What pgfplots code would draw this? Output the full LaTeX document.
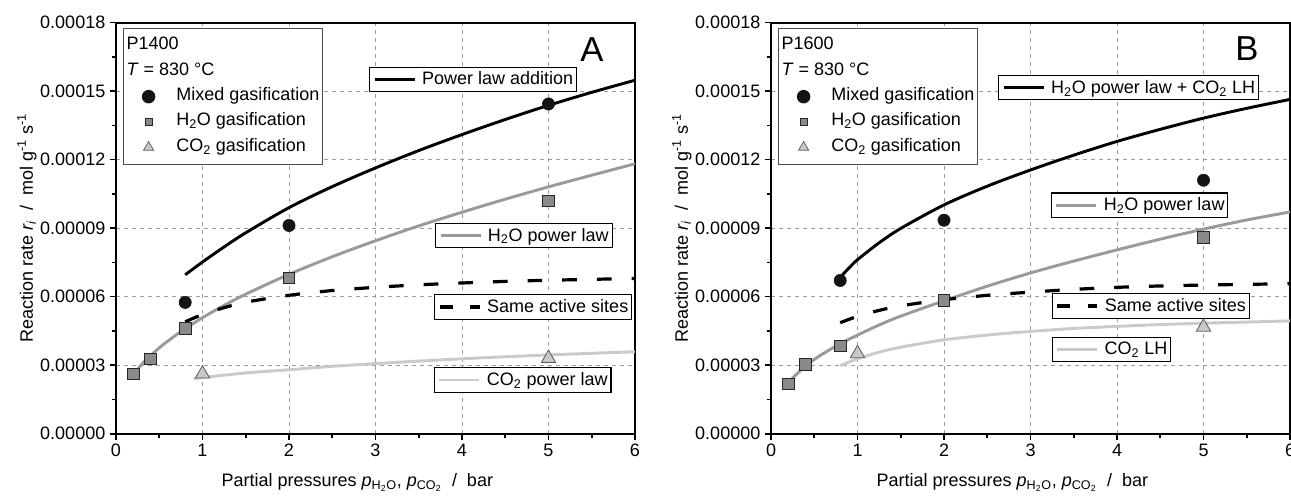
\documentclass[border=0pt]{standalone}
\usepackage{fontspec}
\setmainfont{Liberation Sans}
\usepackage{pgfplots}
\pgfplotsset{compat=1.18}
\definecolor{h2oline}{HTML}{9A9A9A}
\definecolor{co2line}{HTML}{CACACA}
\definecolor{sqfill}{HTML}{8A8A8A}
\definecolor{trifill}{HTML}{C8C8C8}
\definecolor{gridc}{HTML}{9C9C9C}
\newcommand{\fs}{\fontsize{13.5}{16}\selectfont}
\pgfplotsset{
  baseax/.style={scale only axis, width=389.25pt, height=308.25pt,
    xmin=0, xmax=6, ymin=0, ymax=0.00018, anchor=south west, font=\fs},
  mainax/.style={baseax,
    axis line style={line width=1.5pt, black},
    tick align=outside, tick pos=left,
    major tick length=4.5pt, minor tick length=3pt,
    tick style={black, line width=1.2pt},
    xtick={0,1,2,3,4,5,6}, minor x tick num=1,
    ytick={0,0.00003,0.00006,0.00009,0.00012,0.00015,0.00018}, minor y tick num=1,
    scaled y ticks=false,
    yticklabel style={/pgf/number format/fixed,/pgf/number format/fixed zerofill,/pgf/number format/precision=5},
    /pgf/number format/assume math mode=true,
    ticklabel style={font=\fs},
    grid=major, major grid style={gridc, line width=0.6pt, dash pattern=on 3pt off 3pt},
    xlabel={Partial pressures \textit{p}\textsubscript{H\textsubscript{2}O}, \textit{p}\textsubscript{CO\textsubscript{2}} \ / \ bar},
    ylabel={Reaction rate \textit{r}\textsubscript{\textit{i}} \ / \ mol g\textsuperscript{-1} s\textsuperscript{-1}},
    xlabel style={at={(axis description cs:0.465,-0.129)}, anchor=base},
    ylabel style={at={(axis description cs:-0.1715,0.5)}, anchor=center},
  },
  overax/.style={baseax, hide axis},
  curvelab/.style={
    legend style={draw=black, line width=0.8pt, fill=white, inner xsep=2.5pt, inner ysep=1.5pt,
      anchor=north west, font=\fs,
      nodes={inner xsep=0pt, inner ysep=2pt},
      /tikz/every odd column/.append style={column sep=4.5pt}},
    legend cell align=left,
    legend image code/.code={\draw[##1] (0pt,0pt) -- (30pt,0pt);}},
  dashlab/.style={legend image code/.code={\draw[##1, dash pattern=on 9.75pt off 13pt] (0pt,0pt) -- (30pt,0pt);}},
  ptlab/.style={
    legend style={draw=black!70, line width=0.9pt, fill=white, inner xsep=2.5pt, inner ysep=3.5pt,
      anchor=north west, font=\fs, at={(0.0135,0.987)},
      nodes={inner xsep=0pt, inner ysep=2.5pt, text height=10pt, text depth=4pt},
      /tikz/every odd column/.append style={column sep=5pt}},
    legend cell align=left,
    legend image code/.code={\path[draw=none,fill=none] (0pt,0pt) -- (32pt,0pt); \draw[##1] plot coordinates {(16.25pt,0pt)};}},
  mixedm/.style={only marks, mark=*, mark size=4.6pt, mark options={fill=black!92, draw=black!92}},
  h2om/.style={only marks, mark=square*, mark size=4.3pt, mark options={fill=sqfill, draw=black!85, line width=0.6pt}},
  co2m/.style={only marks, mark=triangle*, mark size=6.2pt, mark options={fill=trifill, draw=black!65, line width=0.6pt}},
  h2oml/.style={only marks, mark=square*, mark size=2.8pt, mark options={fill=sqfill, draw=black!85, line width=0.5pt}},
  co2ml/.style={only marks, mark=triangle*, mark size=4.4pt, mark options={fill=trifill, draw=black!65, line width=0.5pt}},
  blk/.style={black, line width=2.2pt, smooth},
  h2ol/.style={h2oline, line width=2.2pt, smooth},
  co2l/.style={co2line, line width=2.2pt, smooth},
  dsh/.style={black, line width=2.4pt, smooth, dash pattern=on 11pt off 15pt},
}
\begin{document}
\begin{tikzpicture}
\path[use as bounding box] (0,0) rectangle (968.25pt,372pt);
% ================= LEFT PANEL (A) =================
\begin{axis}[mainax, at={(87pt,46.725pt)}, curvelab, legend style={at={(0.488,0.893)}}]
\addplot[blk] coordinates {(0.8,6.96e-5)(1,7.52e-5)(1.25,8.18e-5)(1.5,8.80e-5)(2,9.90e-5)(2.5,10.82e-5)(3,11.64e-5)(3.5,12.40e-5)(4,13.10e-5)(4.5,13.76e-5)(5,14.38e-5)(5.5,14.95e-5)(6,15.48e-5)};
\addlegendentry{Power law addition}
\end{axis}
\begin{axis}[overax, at={(87pt,46.725pt)}, curvelab, legend style={at={(0.615,0.513)}}]
\addplot[h2ol] coordinates {(0.2,2.60e-5)(0.3,3.05e-5)(0.4,3.42e-5)(0.5,3.76e-5)(0.6,4.06e-5)(0.8,4.60e-5)(1,5.08e-5)(1.25,5.62e-5)(1.5,6.11e-5)(2,6.98e-5)(2.5,7.75e-5)(3,8.45e-5)(3.5,9.10e-5)(4,9.70e-5)(4.5,10.27e-5)(5,10.81e-5)(5.5,11.32e-5)(6,11.82e-5)};
\addlegendentry{H\textsubscript{2}O power law}
\end{axis}
\begin{axis}[overax, at={(87pt,46.725pt)}, curvelab, dashlab, legend style={at={(0.613,0.339)}}]
\addplot[dsh] coordinates {(0.8,4.90e-5)(1,5.22e-5)(1.25,5.52e-5)(1.5,5.76e-5)(2,6.06e-5)(2.5,6.27e-5)(3,6.41e-5)(3.5,6.52e-5)(4,6.60e-5)(4.5,6.67e-5)(5,6.72e-5)(5.5,6.76e-5)(6,6.80e-5)};
\addlegendentry{Same active sites}
\end{axis}
\begin{axis}[overax, at={(87pt,46.725pt)}, curvelab, legend style={at={(0.613,0.1616)}}]
\addplot[co2l] coordinates {(0.9,2.40e-5)(1,2.46e-5)(1.5,2.66e-5)(2,2.80e-5)(2.5,2.95e-5)(3,3.07e-5)(3.5,3.18e-5)(4,3.28e-5)(4.5,3.37e-5)(5,3.45e-5)(5.5,3.52e-5)(6,3.59e-5)};
\addlegendentry{CO\textsubscript{2} power law}
\end{axis}
\begin{axis}[overax, at={(87pt,46.725pt)}, ptlab]
\addlegendimage{empty legend}\addlegendentry{\hspace*{-37.25pt}P1400}
\addlegendimage{empty legend}\addlegendentry{\hspace*{-37.25pt}\textit{T} = 830 °C}
\addlegendimage{mixedm}\addlegendentry{Mixed gasification}
\addlegendimage{h2oml}\addlegendentry{H\textsubscript{2}O gasification}
\addlegendimage{co2ml}\addlegendentry{CO\textsubscript{2} gasification}
\addplot[mixedm, forget plot] coordinates {(0.8,5.75e-5)(2,9.12e-5)(5,14.44e-5)};
\addplot[h2om, forget plot] coordinates {(0.2,2.61e-5)(0.4,3.28e-5)(0.8,4.62e-5)(2,6.82e-5)(5,10.19e-5)};
\addplot[co2m, forget plot] coordinates {(1,2.62e-5)(5,3.30e-5)};
\node[font=\fontsize{26}{30}\selectfont] at (axis description cs:0.917,0.934) {A};
\end{axis}
% ================= RIGHT PANEL (B) =================
\begin{axis}[mainax, at={(578.25pt,46.725pt)}, curvelab, legend style={at={(0.438,0.873)}}]
\addplot[blk] coordinates {(0.8,6.85e-5)(0.9,7.25e-5)(1,7.62e-5)(1.25,8.36e-5)(1.5,8.99e-5)(2,10.02e-5)(2.5,10.84e-5)(3,11.55e-5)(3.5,12.20e-5)(4,12.80e-5)(4.5,13.33e-5)(5,13.82e-5)(5.5,14.25e-5)(6,14.64e-5)};
\addlegendentry{H\textsubscript{2}O power law + CO\textsubscript{2} LH}
\end{axis}
\begin{axis}[overax, at={(578.25pt,46.725pt)}, curvelab, legend style={at={(0.5395,0.587)}}]
\addplot[h2ol] coordinates {(0.2,2.25e-5)(0.3,2.62e-5)(0.4,2.98e-5)(0.5,3.25e-5)(0.6,3.50e-5)(0.8,3.94e-5)(1,4.32e-5)(1.25,4.76e-5)(1.5,5.15e-5)(2,5.82e-5)(2.5,6.46e-5)(3,7.04e-5)(3.5,7.56e-5)(4,8.05e-5)(4.5,8.52e-5)(5,8.96e-5)(5.5,9.36e-5)(6,9.71e-5)};
\addlegendentry{H\textsubscript{2}O power law}
\end{axis}
\begin{axis}[overax, at={(578.25pt,46.725pt)}, curvelab, dashlab, legend style={at={(0.541,0.3416)}}]
\addplot[dsh] coordinates {(0.8,4.86e-5)(1,5.14e-5)(1.25,5.40e-5)(1.5,5.60e-5)(2,5.87e-5)(2.5,6.06e-5)(3,6.20e-5)(3.5,6.32e-5)(4,6.41e-5)(4.5,6.47e-5)(5,6.51e-5)(5.5,6.54e-5)(6,6.57e-5)};
\addlegendentry{Same active sites}
\end{axis}
\begin{axis}[overax, at={(578.25pt,46.725pt)}, curvelab, legend style={at={(0.541,0.236)}}]
\addplot[co2l] coordinates {(0.8,2.98e-5)(1,3.28e-5)(1.25,3.57e-5)(1.5,3.79e-5)(2,4.11e-5)(2.5,4.32e-5)(3,4.48e-5)(3.5,4.61e-5)(4,4.70e-5)(4.5,4.78e-5)(5,4.84e-5)(5.5,4.89e-5)(6,4.94e-5)};
\addlegendentry{CO\textsubscript{2} LH}
\end{axis}
\begin{axis}[overax, at={(578.25pt,46.725pt)}, ptlab]
\addlegendimage{empty legend}\addlegendentry{\hspace*{-37.25pt}P1600}
\addlegendimage{empty legend}\addlegendentry{\hspace*{-37.25pt}\textit{T} = 830 °C}
\addlegendimage{mixedm}\addlegendentry{Mixed gasification}
\addlegendimage{h2oml}\addlegendentry{H\textsubscript{2}O gasification}
\addlegendimage{co2ml}\addlegendentry{CO\textsubscript{2} gasification}
\addplot[mixedm, forget plot] coordinates {(0.8,6.71e-5)(2,9.35e-5)(5,11.10e-5)};
\addplot[h2om, forget plot] coordinates {(0.2,2.19e-5)(0.4,3.04e-5)(0.8,3.84e-5)(2,5.84e-5)(5,8.60e-5)};
\addplot[co2m, forget plot] coordinates {(1,3.51e-5)(5,4.67e-5)};
\node[font=\fontsize{26}{30}\selectfont] at (axis description cs:0.917,0.936) {B};
\end{axis}
\end{tikzpicture}
\end{document}
